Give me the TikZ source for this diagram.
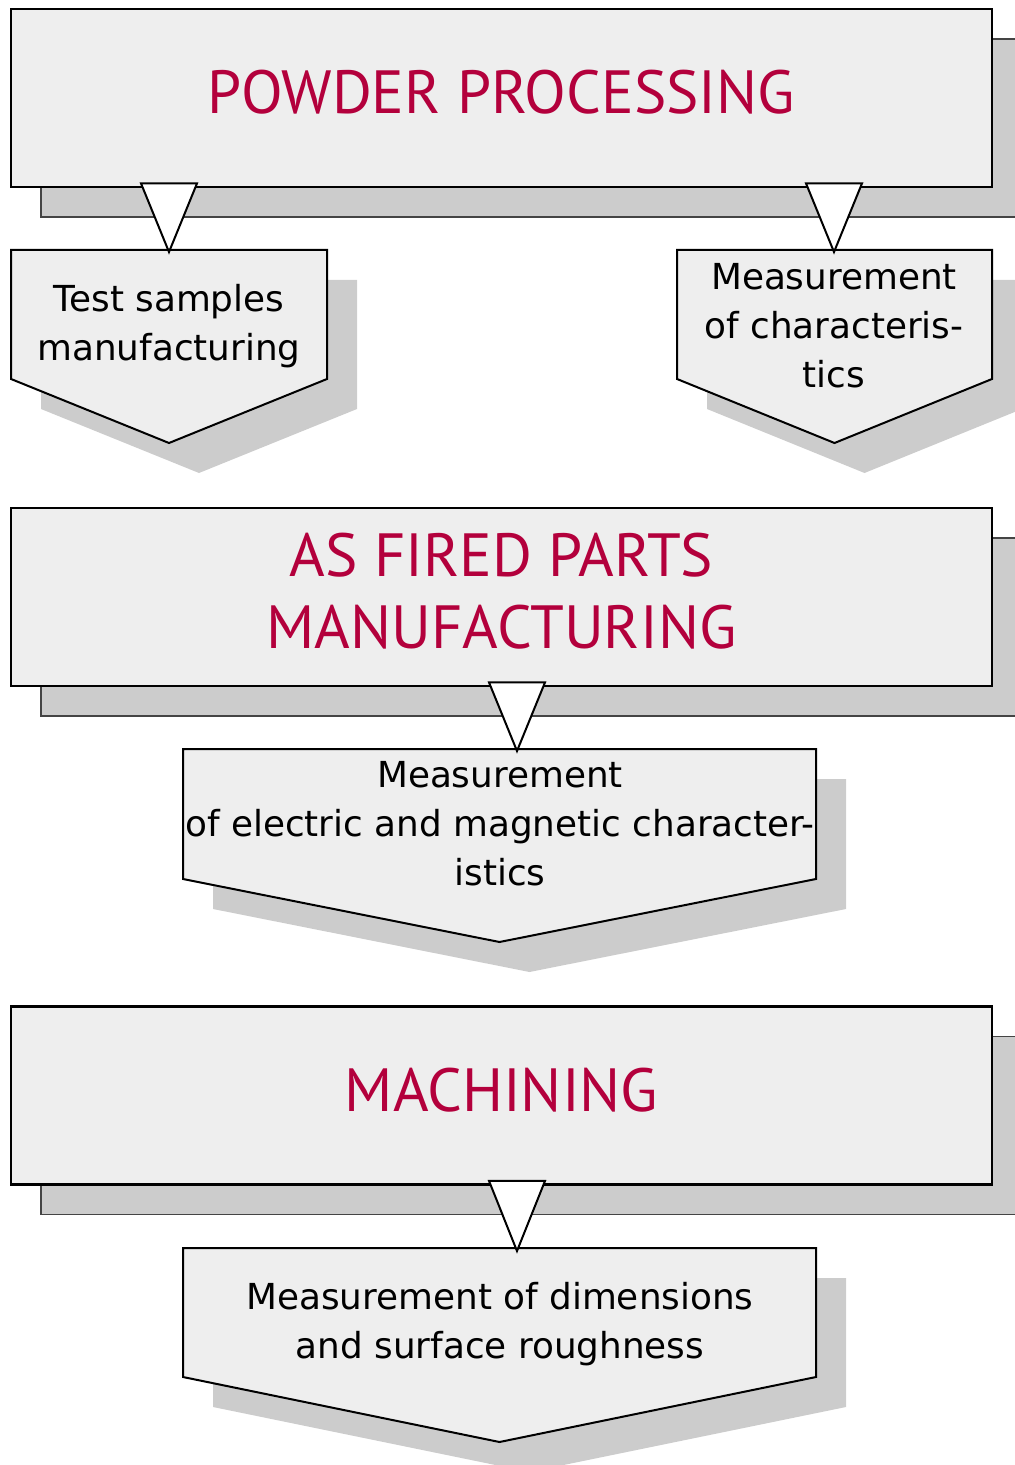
\documentclass[tikz,border=0pt]{standalone}
\usepackage{fontspec}
\setmainfont{DejaVu Sans}
\newfontfamily\titlefont{PT Sans}
\usetikzlibrary{calc,shadows}

\definecolor{boxfill}{HTML}{EEEEEE}
\definecolor{shadowfill}{HTML}{CCCCCC}
\definecolor{shadowline}{HTML}{444444}
\definecolor{titlered}{HTML}{B3003C}

\tikzset{
    stage/.style={draw=black, line width=1.4pt, fill=boxfill, inner sep=0pt,
        minimum width=490.5pt, minimum height=89pt,
        text=titlered, align=center, text depth=6pt,
        font=\titlefont\fontsize{30.5}{36}\selectfont,
        drop shadow={shadow xshift=15pt, shadow yshift=-15pt, opacity=1,
            fill=shadowfill, draw=shadowline, line width=0.75pt}},
    chevron/.style={draw=black, line width=1pt, fill=boxfill, line join=miter},
    note/.style={align=center, inner sep=0pt, font=\fontsize{17.9}{24.5}\selectfont},
    pointer/.style={draw=black, line width=1pt, fill=white, line join=miter}
}

\begin{document}
\begin{tikzpicture}[x=0.5pt, y=-0.5pt]
    \useasboundingbox (0,0) rectangle (1015,1465);

    %etapas principais
    \node[stage] (powder) at (501.5,98) {POWDER PROCESSING};
    \node[stage] (fired) at (501.5,597) {AS FIRED PARTS\\MANUFACTURING};
    \node[stage] (mach) at (501.5,1095.5) {MACHINING};

    %setas de controle
    \foreach \name/\cx/\top/\hw/\side/\tip in {
        test/169/250/158/379/443, meas/834.5/250/157.5/379/443,
        elec/499.5/749/316.5/879/942, dim/499.5/1248/316.5/1377/1442
    } {
        \fill[shadowfill]
            (\cx-\hw+30,\top+30) -- (\cx+\hw+30,\top+30) -- (\cx+\hw+30,\side+30)
            -- (\cx+30,\tip+30) -- (\cx-\hw+30,\side+30) -- cycle;
        \draw[chevron]
            (\cx-\hw,\top) -- (\cx+\hw,\top) -- (\cx+\hw,\side)
            -- (\cx,\tip) -- (\cx-\hw,\side) -- cycle;
        \coordinate (\name-top) at (\cx,\top);
    }

    \node[note] (test) at (169,326) {Test samples\\manufacturing};
    \node[note] (meas) at (834,326) {Measurement\\of characteris-\\tics};
    \node[note] (elec) at (500,824) {Measurement\\of electric and magnetic character-\\istics};
    \node[note] (dim) at (500,1324) {Measurement of dimensions\\and surface roughness};

    %triangulos
    \foreach \i/\x/\y in {1/169/252, 2/834/252, 3/517/751, 4/517/1251}
        \coordinate (tip\i) at (\x,\y);
    \foreach \i/\from in {1/powder, 2/powder, 3/fired, 4/mach} {
        \draw[pointer]
            ($(tip\i |- \from.south)+(-28,-5)$) -- ($(tip\i |- \from.south)+(28,-5)$)
            -- (tip\i) -- cycle;
    }
\end{tikzpicture}
\end{document}
